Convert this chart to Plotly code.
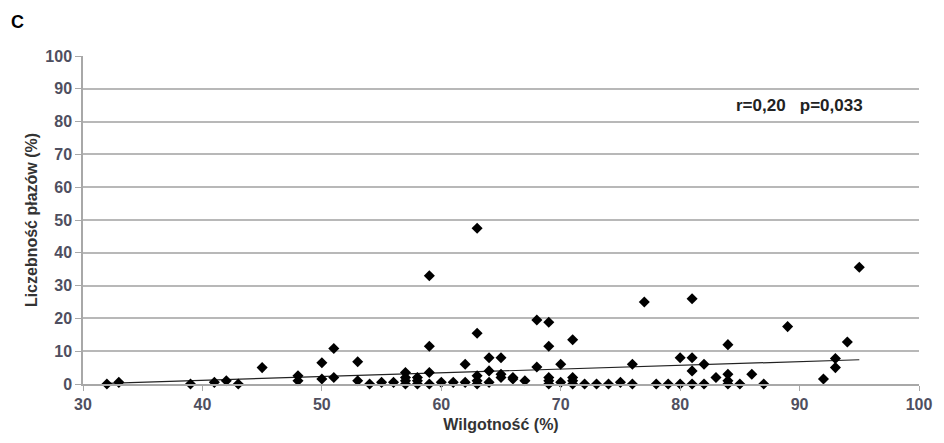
import plotly.graph_objects as go

humidity = [32, 33, 39, 41, 42, 43, 45, 48, 48, 50, 50, 51, 51, 53, 53, 54, 55, 56,
            57, 57, 57, 57, 58, 58, 58, 59, 59, 59, 59, 60, 61, 62, 62,
            63, 63, 63, 63, 63, 64, 64, 64, 65, 65, 65, 66, 66, 67, 68, 68,
            69, 69, 69, 69, 69, 70, 70, 71, 71, 71, 71, 72, 73, 74, 75, 76, 76,
            77, 78, 79, 80, 80, 81, 81, 81, 81, 82, 82, 83, 84, 84, 84, 84,
            85, 86, 87, 89, 92, 93, 93, 94, 95]
abundance = [0, 0.5, 0, 0.5, 1, 0, 5, 2.5, 1, 6.5, 1.5, 10.8, 2, 6.8, 1, 0, 0.5, 0.5,
             3.5, 2, 1, 0, 2, 1, 0, 33, 11.5, 3.5, 0, 0.5, 0.5, 6, 0.5,
             47.5, 15.5, 2.5, 1, 0, 8, 4, 0.5, 8, 3, 2, 2, 1.5, 1, 19.5, 5.2,
             18.8, 11.5, 2, 1, 0, 6, 0.5, 13.5, 2, 1, 0, 0, 0, 0, 0.5, 6, 0,
             25, 0, 0, 8, 0, 26, 8, 4, 0, 6, 0, 2, 12, 3, 1, 0,
             0, 3, 0, 17.5, 1.5, 7.8, 5, 12.8, 35.6]
trend_x = [32, 95]
trend_y = [0.2, 7.4]
x_ticks = [30, 40, 50, 60, 70, 80, 90, 100]
y_ticks = [0, 10, 20, 30, 40, 50, 60, 70, 80, 90, 100]

FONT = "Liberation Sans, Arial, sans-serif"

fig = go.Figure()
fig.add_trace(go.Scatter(x=trend_x, y=trend_y, mode="lines", cliponaxis=False,
                         line=dict(color="#222222", width=1.2), showlegend=False))
fig.add_trace(go.Scatter(x=humidity, y=abundance, mode="markers", cliponaxis=False,
                         marker=dict(symbol="diamond", size=8.5, color="black",
                                     line=dict(width=0)),
                         showlegend=False))

tick_font = dict(family=FONT, size=16, color="#4f4f5f")
title_font = dict(family=FONT, size=16, color="#333333")

fig.update_layout(
    width=944, height=443,
    margin=dict(l=83, r=19, t=56, b=57),
    paper_bgcolor="white", plot_bgcolor="white",
    font=dict(family=FONT),
    xaxis=dict(range=[30, 100], tickvals=x_ticks, ticktext=["<b>%d</b>" % v for v in x_ticks],
               showgrid=False, zeroline=False, showline=True, linecolor="#a8a8a8",
               linewidth=1.5, ticks="outside", ticklen=5, tickcolor="#a8a8a8",
               tickfont=tick_font,
               title=dict(text="<b>Wilgotność (%)</b>", font=title_font, standoff=7)),
    yaxis=dict(range=[0, 100], tickvals=y_ticks, ticktext=["<b>%d</b>" % v for v in y_ticks],
               showgrid=True, gridcolor="#b8b8b8", gridwidth=1.5, zeroline=False,
               showline=True, linecolor="#a8a8a8", linewidth=1.5,
               ticks="outside", ticklen=6, tickcolor="#a8a8a8",
               tickfont=tick_font,
               title=dict(text="<b>Liczebność płazów (%)</b>", font=title_font, standoff=4)),
)

fig.add_annotation(x=90, y=85, xref="x", yref="y", text="<b>r=0,20   p=0,033</b>",
                   showarrow=False, font=dict(family=FONT, size=17, color="#222222"))
fig.add_annotation(x=-0.088, y=1.105, xref="paper", yref="paper", text="<b>C</b>",
                   showarrow=False, xanchor="left", yanchor="middle",
                   font=dict(family=FONT, size=18, color="black"))

fig.write_html("out.html")
